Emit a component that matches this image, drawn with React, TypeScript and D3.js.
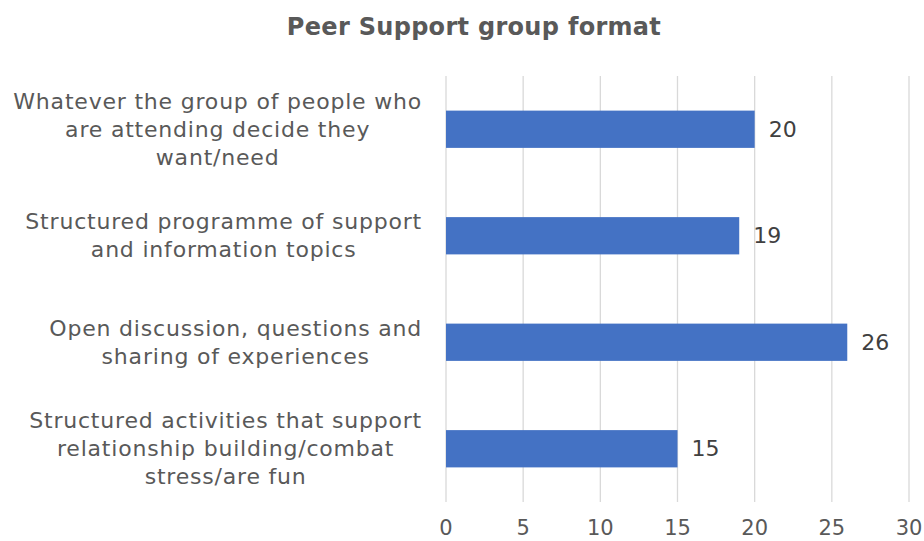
import React, { useEffect, useRef } from "react";
import * as d3 from "d3";

const categories: string[][] = [
  ["Whatever the group of people who", "are attending decide they", "want/need"],
  ["Structured programme of support", "and information topics"],
  ["Open discussion, questions and", "sharing of experiences"],
  ["Structured activities that support", "relationship building/combat", "stress/are fun"],
];
const values: number[] = [20, 19, 26, 15];
const ticks: number[] = [0, 5, 10, 15, 20, 25, 30];
const title = "Peer Support group format";

const W = 924, H = 541;
const FONT = "'DejaVu Sans', sans-serif";

export default function App() {
  const ref = useRef<SVGSVGElement>(null);
  useEffect(() => {
    const svg = d3.select(ref.current);
    svg.selectAll("*").remove();
    const left = 446, right = 909, top = 76, bottom = 502;
    const x = d3.scaleLinear().domain([0, 30]).range([left, right]);
    const y = d3.scaleBand<number>().domain(d3.range(values.length)).range([top, bottom]).paddingInner(0.65).paddingOuter(0.325);

    svg.append("text").attr("x", 474).attr("y", 27).attr("text-anchor", "middle").attr("dominant-baseline", "central")
      .attr("font-family", FONT).attr("font-weight", "bold").attr("font-size", 24).attr("letter-spacing", 0.3)
      .attr("fill", "#595959").text(title);

    svg.append("g").selectAll("line").data(ticks).join("line")
      .attr("x1", d => x(d)).attr("x2", d => x(d)).attr("y1", top).attr("y2", bottom)
      .attr("stroke", "#d9d9d9").attr("stroke-width", 1.3);

    svg.append("g").selectAll("text").data(ticks).join("text")
      .attr("x", d => x(d)).attr("y", 528).attr("text-anchor", "middle").attr("dominant-baseline", "central")
      .attr("font-family", FONT).attr("font-size", 21).attr("fill", "#595959").text(d => String(d));

    svg.append("g").selectAll("rect").data(values).join("rect")
      .attr("x", x(0)).attr("y", (_, i) => y(i)!).attr("width", d => x(d) - x(0)).attr("height", y.bandwidth())
      .attr("fill", "#4472C4");

    svg.append("g").selectAll("text").data(values).join("text")
      .attr("x", d => x(d) + 14).attr("y", (_, i) => y(i)! + y.bandwidth() / 2).attr("dominant-baseline", "central")
      .attr("font-family", FONT).attr("font-size", 22).attr("fill", "#404040").text(d => String(d));

    const lh = 28;
    categories.forEach((lines, i) => {
      const cy = y(i)! + y.bandwidth() / 2;
      const g = svg.append("g");
      const texts = g.selectAll("text").data(lines).join("text")
        .attr("y", (_, j) => cy + (j - (lines.length - 1) / 2) * lh)
        .attr("dominant-baseline", "central").attr("text-anchor", "middle")
        .attr("font-family", FONT).attr("font-size", 22).attr("letter-spacing", 0.8)
        .attr("fill", "#595959").text(d => d);
      let maxW = 0;
      texts.each(function () { maxW = Math.max(maxW, (this as SVGTextElement).getComputedTextLength()); });
      texts.attr("x", 422 - maxW / 2);
    });
  }, []);
  return (
    <svg ref={ref} width={W} height={H} style={{ position: "absolute", left: 0, top: 0, background: "#fff" }} />
  );
}
